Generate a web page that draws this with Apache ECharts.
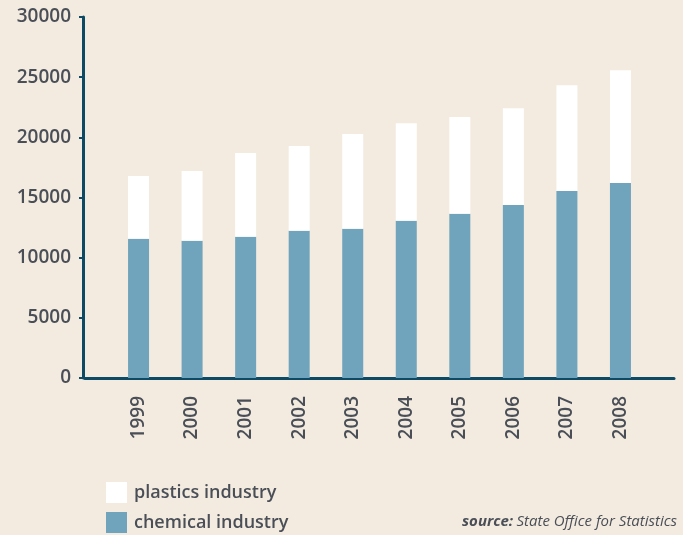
<!DOCTYPE html>
<html>
<head>
<meta charset="utf-8">
<script src="https://cdn.jsdelivr.net/npm/echarts@6/dist/echarts.min.js"></script>
<style>
  html, body { margin: 0; padding: 0; background: #f3ebe0; }
  #main { width: 683px; height: 535px; }
</style>
</head>
<body>
<div id="main"></div>
<script>
// years (empty slots at both ends give the gap next to the axes)
var years = ['', '1999', '2000', '2001', '2002', '2003', '2004', '2005', '2006', '2007', '2008', ''];
var chemical = ['-', 11570, 11400, 11730, 12230, 12400, 13060, 13640, 14380, 15540, 16210, '-'];
var plastics = ['-', 5220, 5800, 6970, 7050, 7870, 8120, 8040, 8040, 8790, 9370, '-'];
var yTicks = [0, 5000, 10000, 15000, 20000, 25000, 30000];

var axisColor = '#0c4a66';
var textColor = '#4a4f57';
var fontName = '"Open Sans", sans-serif';

var myChart = echarts.init(document.getElementById('main'));
var option = {
  backgroundColor: '#f3ebe0',
  animation: false,
  grid: { left: 85, right: 9, top: 17, bottom: 157 },
  legend: {
    orient: 'vertical',
    left: 106,
    top: 482,
    padding: 0,
    itemWidth: 21,
    itemHeight: 21,
    itemGap: 9,
    icon: 'rect',
    data: ['plastics industry', 'chemical industry'],
    textStyle: { color: textColor, fontSize: 18, fontWeight: 600, fontFamily: fontName, padding: [2, 0, 0, 2] }
  },
  xAxis: {
    type: 'category',
    data: years,
    boundaryGap: false,
    axisLine: { lineStyle: { color: axisColor, width: 3 } },
    axisTick: { show: false },
    axisLabel: {
      rotate: 90,
      margin: 18,
      interval: 0,
      color: textColor,
      fontSize: 19,
      fontWeight: 600,
      fontFamily: fontName
    }
  },
  yAxis: {
    type: 'value',
    offset: 2,
    min: yTicks[0],
    max: yTicks[yTicks.length - 1],
    interval: yTicks[1] - yTicks[0],
    splitLine: { show: false },
    axisLine: { show: true, lineStyle: { color: axisColor, width: 3 } },
    axisTick: { show: true, length: 4, lineStyle: { color: axisColor, width: 2 } },
    axisLabel: {
      margin: 12,
      color: textColor,
      fontSize: 19,
      fontWeight: 600,
      fontFamily: fontName,
      formatter: function (v) { return String(v); }
    }
  },
  series: [
    {
      name: 'chemical industry',
      type: 'bar',
      stack: 'total',
      barWidth: 21,
      data: chemical,
      itemStyle: { color: '#70a4bc' }
    },
    {
      name: 'plastics industry',
      type: 'bar',
      stack: 'total',
      barWidth: 21,
      data: plastics,
      itemStyle: { color: '#ffffff' }
    }
  ],
  graphic: [
    {
      type: 'text',
      right: 6,
      top: 514,
      style: {
        text: '{b|source:} {i|State Office for Statistics}',
        rich: {
          b: { fontFamily: fontName, fontSize: 15, fontStyle: 'italic', fontWeight: 'bold', fill: textColor },
          i: { fontFamily: fontName, fontSize: 15, fontStyle: 'italic', fill: textColor }
        }
      }
    }
  ]
};
myChart.setOption(option);
</script>
</body>
</html>
